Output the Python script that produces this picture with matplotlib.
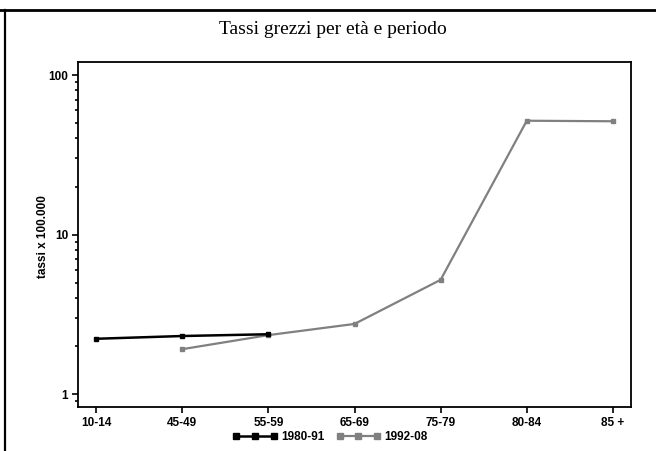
import numpy as np
import matplotlib
matplotlib.use('Agg')
import matplotlib.pyplot as plt
from matplotlib.lines import Line2D
from matplotlib.ticker import LogLocator, NullFormatter, FixedLocator, FixedFormatter

# Data
age_groups = ['10-14', '45-49', '55-59', '65-69', '75-79', '80-84', '85 +']
rates_1980_91 = [2.22, 2.31, 2.37, None, None, None, None]
rates_1992_08 = [None, 1.91, 2.34, 2.75, 5.2, 51.7, 51.3]
y_ticks = [1, 10, 100]
y_tick_labels = ['1', '10', '100']

W, H = 656, 451
fig = plt.figure(figsize=(W / 100, H / 100), dpi=100)
ax = fig.add_axes([78 / W, 1 - 407 / H, (631 - 78) / W, (407 - 62) / H])

tick_family = ['Liberation Sans Narrow', 'Liberation Sans', 'DejaVu Sans']

x = np.arange(len(age_groups))


def to_arr(vals):
    return np.array([np.nan if v is None else v for v in vals], dtype=float)


ax.plot(x, to_arr(rates_1980_91), color='black', lw=1.8, marker='s', ms=2.5,
        label='1980-91', zorder=3)
ax.plot(x, to_arr(rates_1992_08), color='#808080', lw=1.6, marker='s', ms=3,
        label='1992-08', zorder=2)

ax.set_yscale('log')
ax.set_ylim(0.829, 120.7)
ax.set_xlim(-0.21, 6.21)

ax.yaxis.set_major_locator(FixedLocator(y_ticks))
ax.yaxis.set_major_formatter(FixedFormatter(y_tick_labels))
ax.yaxis.set_minor_locator(LogLocator(base=10, subs=np.arange(2, 10)))
ax.yaxis.set_minor_formatter(NullFormatter())

ax.set_xticks(x)
ax.set_xticklabels(age_groups)

for lab in ax.get_xticklabels() + ax.get_yticklabels():
    lab.set_fontfamily(tick_family)
    lab.set_fontweight('bold')
    lab.set_fontsize(8.5)

ax.tick_params(axis='both', which='major', direction='out', length=4, width=1.2,
               pad=3, colors='black')
ax.tick_params(axis='y', which='minor', direction='out', length=2.5, width=1.2)
for s in ax.spines.values():
    s.set_linewidth(1.3)

# y label placed where the reference has it
fig.text(43 / W, 1 - 237 / H, 'tassi x 100.000', rotation=90, ha='center', va='center',
         family=tick_family, weight='bold', size=8.5)

fig.text(333 / W, 1 - 29 / H, 'Tassi grezzi per età e periodo', ha='center', va='center',
         family=['Liberation Serif', 'DejaVu Serif'], fontsize=14)

leg = fig.legend(loc='center', bbox_to_anchor=(330 / W, 1 - 437 / H), ncol=2, frameon=False,
                 numpoints=3, handlelength=3.8, columnspacing=1.0, handletextpad=0.3,
                 prop={'family': tick_family, 'weight': 'bold', 'size': 8.5})
for ln in leg.get_lines():
    ln.set_markersize(4)

# outer frame lines (top and left)
fig.add_artist(Line2D([0, 1], [1 - 10 / H, 1 - 10 / H], transform=fig.transFigure,
                      color='black', lw=2))
fig.add_artist(Line2D([5 / W, 5 / W], [0, 1 - 10 / H], transform=fig.transFigure,
                      color='black', lw=1.6))

fig.savefig('out.png', dpi=100)
